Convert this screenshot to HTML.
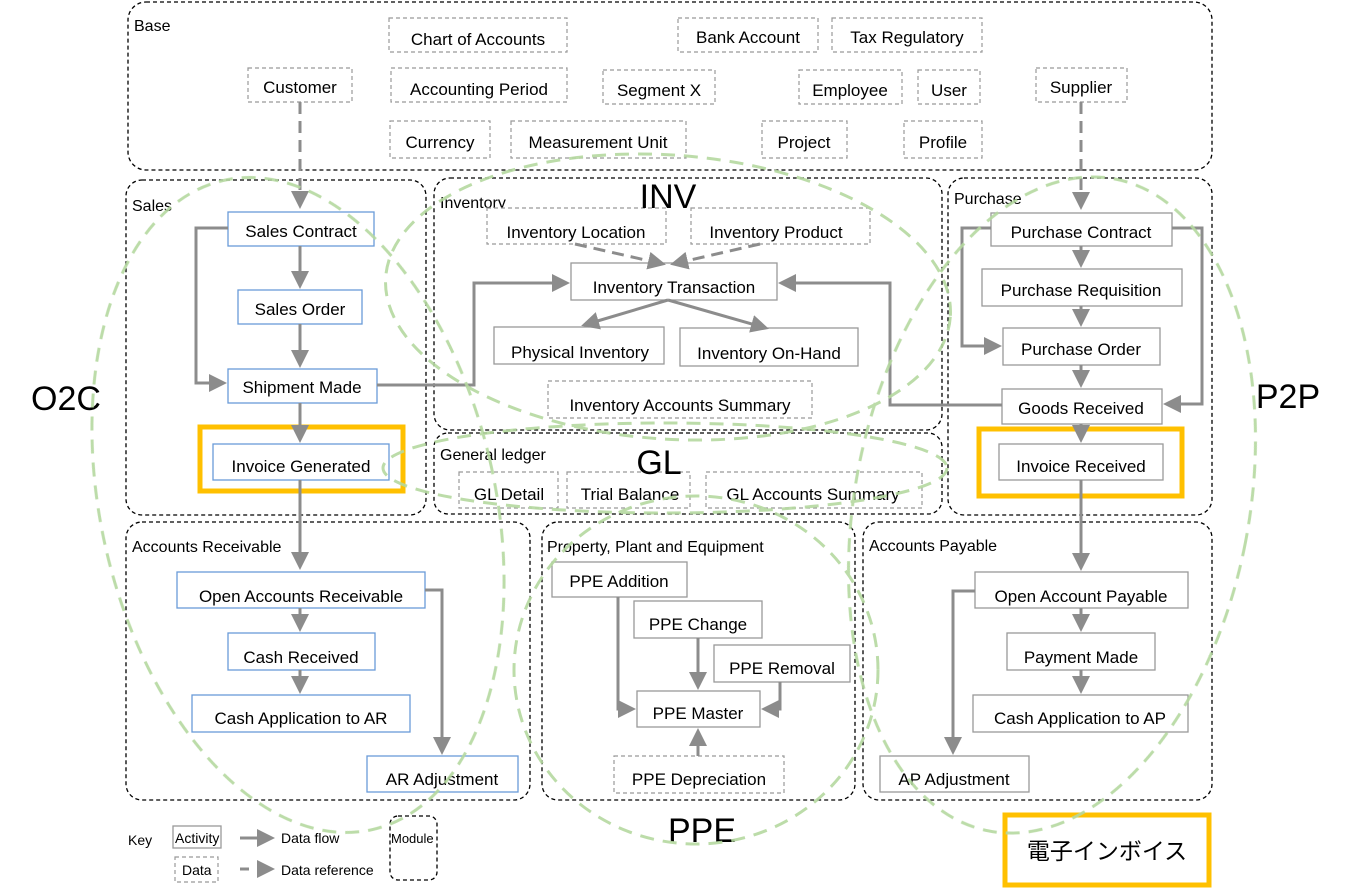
<!DOCTYPE html>
<html><head><meta charset="utf-8"><style>
html,body{margin:0;padding:0;background:#fff;}
svg{display:block;}
text{font-family:"Liberation Sans","Noto Sans CJK JP",sans-serif;}
</style></head><body>
<svg width="1347" height="891" viewBox="0 0 1347 891" xmlns="http://www.w3.org/2000/svg">
<defs>
<marker id="a" markerWidth="6" markerHeight="6" refX="5" refY="3" orient="auto" markerUnits="strokeWidth"><path d="M0,0 L6,3 L0,6 z" fill="#8c8c8c"/></marker>
</defs>
<g fill="none" stroke="#000" stroke-width="1.3" stroke-dasharray="4,3">
<rect x="128" y="2" width="1084" height="168" rx="18"/>
<rect x="126" y="180" width="300" height="335" rx="16"/>
<rect x="434" y="178" width="508" height="252" rx="16"/>
<rect x="434" y="433" width="508" height="81" rx="14"/>
<rect x="948" y="178" width="264" height="337" rx="16"/>
<rect x="126" y="522" width="404" height="278" rx="16"/>
<rect x="542" y="522" width="313" height="278" rx="16"/>
<rect x="863" y="522" width="349" height="278" rx="16"/>
<rect x="390" y="816" width="47" height="64" rx="8"/>
</g>
<g font-size="16" fill="#000">
<text x="134" y="31">Base</text>
<text x="132" y="211">Sales</text>
<text x="440" y="208">Inventory</text>
<text x="440" y="460">General ledger</text>
<text x="954" y="204">Purchase</text>
<text x="132" y="552">Accounts Receivable</text>
<text x="547" y="552">Property, Plant and Equipment</text>
<text x="869" y="551">Accounts Payable</text>
</g>
<g fill="#fff" stroke="#999" stroke-width="1.2" stroke-dasharray="4,3">
<rect x="389" y="18" width="178" height="34"/>
<rect x="678" y="18" width="140" height="34"/>
<rect x="832" y="18" width="150" height="34"/>
<rect x="248" y="68" width="104" height="34"/>
<rect x="391" y="68" width="176" height="34"/>
<rect x="603" y="70" width="112" height="34"/>
<rect x="799" y="70" width="103" height="34"/>
<rect x="918" y="70" width="62" height="34"/>
<rect x="1036" y="68" width="91" height="34"/>
<rect x="390" y="121" width="100" height="37"/>
<rect x="511" y="121" width="175" height="37"/>
<rect x="762" y="121" width="85" height="37"/>
<rect x="904" y="121" width="78" height="37"/>
<rect x="487" y="208" width="179" height="36"/>
<rect x="691" y="208" width="179" height="36"/>
<rect x="548" y="381" width="264" height="37"/>
<rect x="459" y="472" width="99" height="36"/>
<rect x="567" y="472" width="123" height="36"/>
<rect x="706" y="472" width="216" height="36"/>
<rect x="614" y="756" width="170" height="37"/>
<rect x="175" y="857" width="43" height="25"/>
</g>
<g fill="#fff" stroke="#6a9bd8" stroke-width="1.3">
<rect x="228" y="212" width="146" height="34"/>
<rect x="238" y="290" width="124" height="34"/>
<rect x="228" y="369" width="149" height="34"/>
<rect x="213" y="444" width="176" height="36"/>
<rect x="177" y="572" width="248" height="36"/>
<rect x="228" y="633" width="147" height="37"/>
<rect x="192" y="695" width="218" height="37"/>
<rect x="367" y="756" width="151" height="36"/>
</g>
<g fill="#fff" stroke="#999" stroke-width="1.3">
<rect x="571" y="263" width="206" height="37"/>
<rect x="494" y="327" width="170" height="37"/>
<rect x="680" y="328" width="178" height="38"/>
<rect x="991" y="213" width="181" height="33"/>
<rect x="982" y="269" width="200" height="37"/>
<rect x="1003" y="328" width="157" height="37"/>
<rect x="1002" y="389" width="160" height="35"/>
<rect x="999" y="444" width="164" height="36"/>
<rect x="552" y="562" width="135" height="35"/>
<rect x="634" y="601" width="128" height="37"/>
<rect x="714" y="645" width="136" height="37"/>
<rect x="637" y="691" width="123" height="36"/>
<rect x="975" y="572" width="213" height="36"/>
<rect x="1007" y="633" width="148" height="37"/>
<rect x="973" y="695" width="215" height="37"/>
<rect x="880" y="756" width="149" height="36"/>
<rect x="173" y="826" width="48" height="22"/>
</g>
<g fill="none" stroke="#ffc000" stroke-width="5">
<rect x="200" y="427" width="203" height="64"/>
<rect x="979" y="429" width="203" height="67"/>
<rect x="1005" y="815" width="204" height="70"/>
</g>
<g fill="none" stroke="#8c8c8c" stroke-width="3" marker-end="url(#a)">
<path d="M300 246 V286"/>
<path d="M300 324 V365"/>
<path d="M300 403 V440"/>
<path d="M300 480 V567"/>
<path d="M228 228 H196 V383 H224"/>
<path d="M377 385 H474 V283 H567"/>
<path d="M1002 405 H890 V283 H781"/>
<path d="M668 300 L584 325"/>
<path d="M668 300 L766 328"/>
<path d="M1081 246 V265"/>
<path d="M1081 306 V324"/>
<path d="M1081 365 V385"/>
<path d="M1081 424 V440"/>
<path d="M1081 480 V568"/>
<path d="M991 228 H962 V346 H999"/>
<path d="M1172 228 H1202 V404 H1166"/>
<path d="M300 608 V629"/>
<path d="M300 670 V691"/>
<path d="M425 590 H442 V752"/>
<path d="M618 597 V709 H633"/>
<path d="M698 638 V687"/>
<path d="M780 682 V709 H764"/>
<path d="M698 756 V731"/>
<path d="M1081 608 V629"/>
<path d="M1081 670 V691"/>
<path d="M975 591 H953 V752"/>
<path d="M240 838 H272"/>
</g>
<g fill="none" stroke="#8c8c8c" stroke-width="3" stroke-dasharray="12,7" marker-end="url(#a)">
<path d="M300 102 V206"/>
<path d="M1081 102 V207"/>
<path d="M575 244 L663 264"/>
<path d="M760 244 L673 264"/>
<path d="M240 869 H272" stroke-dasharray="9,8"/>
</g>
<g font-size="17" fill="#000" text-anchor="middle">
<text x="478" y="45">Chart of Accounts</text>
<text x="748" y="43">Bank Account</text>
<text x="907" y="43">Tax Regulatory</text>
<text x="300" y="93">Customer</text>
<text x="479" y="95">Accounting Period</text>
<text x="659" y="96">Segment X</text>
<text x="850" y="96">Employee</text>
<text x="949" y="96">User</text>
<text x="1081" y="93">Supplier</text>
<text x="440" y="148">Currency</text>
<text x="598" y="148">Measurement Unit</text>
<text x="804" y="148">Project</text>
<text x="943" y="148">Profile</text>
<text x="301" y="237">Sales Contract</text>
<text x="300" y="315">Sales Order</text>
<text x="302" y="393">Shipment Made</text>
<text x="301" y="472">Invoice Generated</text>
<text x="576" y="238">Inventory Location</text>
<text x="776" y="238">Inventory Product</text>
<text x="674" y="293">Inventory Transaction</text>
<text x="580" y="358">Physical Inventory</text>
<text x="769" y="359">Inventory On-Hand</text>
<text x="680" y="411">Inventory Accounts Summary</text>
<text x="509" y="500">GL Detail</text>
<text x="630" y="500">Trial Balance</text>
<text x="813" y="500">GL Accounts Summary</text>
<text x="1081" y="238">Purchase Contract</text>
<text x="1081" y="296">Purchase Requisition</text>
<text x="1081" y="355">Purchase Order</text>
<text x="1081" y="414">Goods Received</text>
<text x="1081" y="472">Invoice Received</text>
<text x="301" y="602">Open Accounts Receivable</text>
<text x="301" y="663">Cash Received</text>
<text x="301" y="724">Cash Application to AR</text>
<text x="442" y="785">AR Adjustment</text>
<text x="619" y="587">PPE Addition</text>
<text x="698" y="630">PPE Change</text>
<text x="782" y="674">PPE Removal</text>
<text x="698" y="719">PPE Master</text>
<text x="699" y="785">PPE Depreciation</text>
<text x="1081" y="602">Open Account Payable</text>
<text x="1081" y="663">Payment Made</text>
<text x="1080" y="724">Cash Application to AP</text>
<text x="954" y="785">AP Adjustment</text>
</g>
<g font-size="14" fill="#000">
<text x="128" y="845">Key</text>
<text x="175" y="843">Activity</text>
<text x="182" y="875">Data</text>
<text x="281" y="843">Data flow</text>
<text x="281" y="875">Data reference</text>
<text x="391" y="843" font-size="13">Module</text>
</g>
<g font-size="34" fill="#000" text-anchor="middle">
<text x="66" y="410">O2C</text>
<text x="1288" y="408">P2P</text>
<text x="668" y="208">INV</text>
<text x="659" y="474">GL</text>
<text x="702" y="842">PPE</text>
</g>
<text x="1107" y="859" font-size="23" text-anchor="middle" font-family="'Noto Sans CJK JP',sans-serif">電子インボイス</text>
<g fill="none" stroke="#b5d9a0" stroke-width="3" stroke-dasharray="14,9" opacity="0.9">
<ellipse cx="298" cy="505" rx="197" ry="333" transform="rotate(-13 298 505)"/>
<ellipse cx="1052" cy="505" rx="197" ry="332" transform="rotate(11 1052 505)"/>
<ellipse cx="668" cy="297" rx="283" ry="142" transform="rotate(4 668 297)"/>
<ellipse cx="665" cy="468" rx="282" ry="45"/>
<ellipse cx="696" cy="670" rx="182" ry="174"/>
</g>
</svg>
</body></html>
